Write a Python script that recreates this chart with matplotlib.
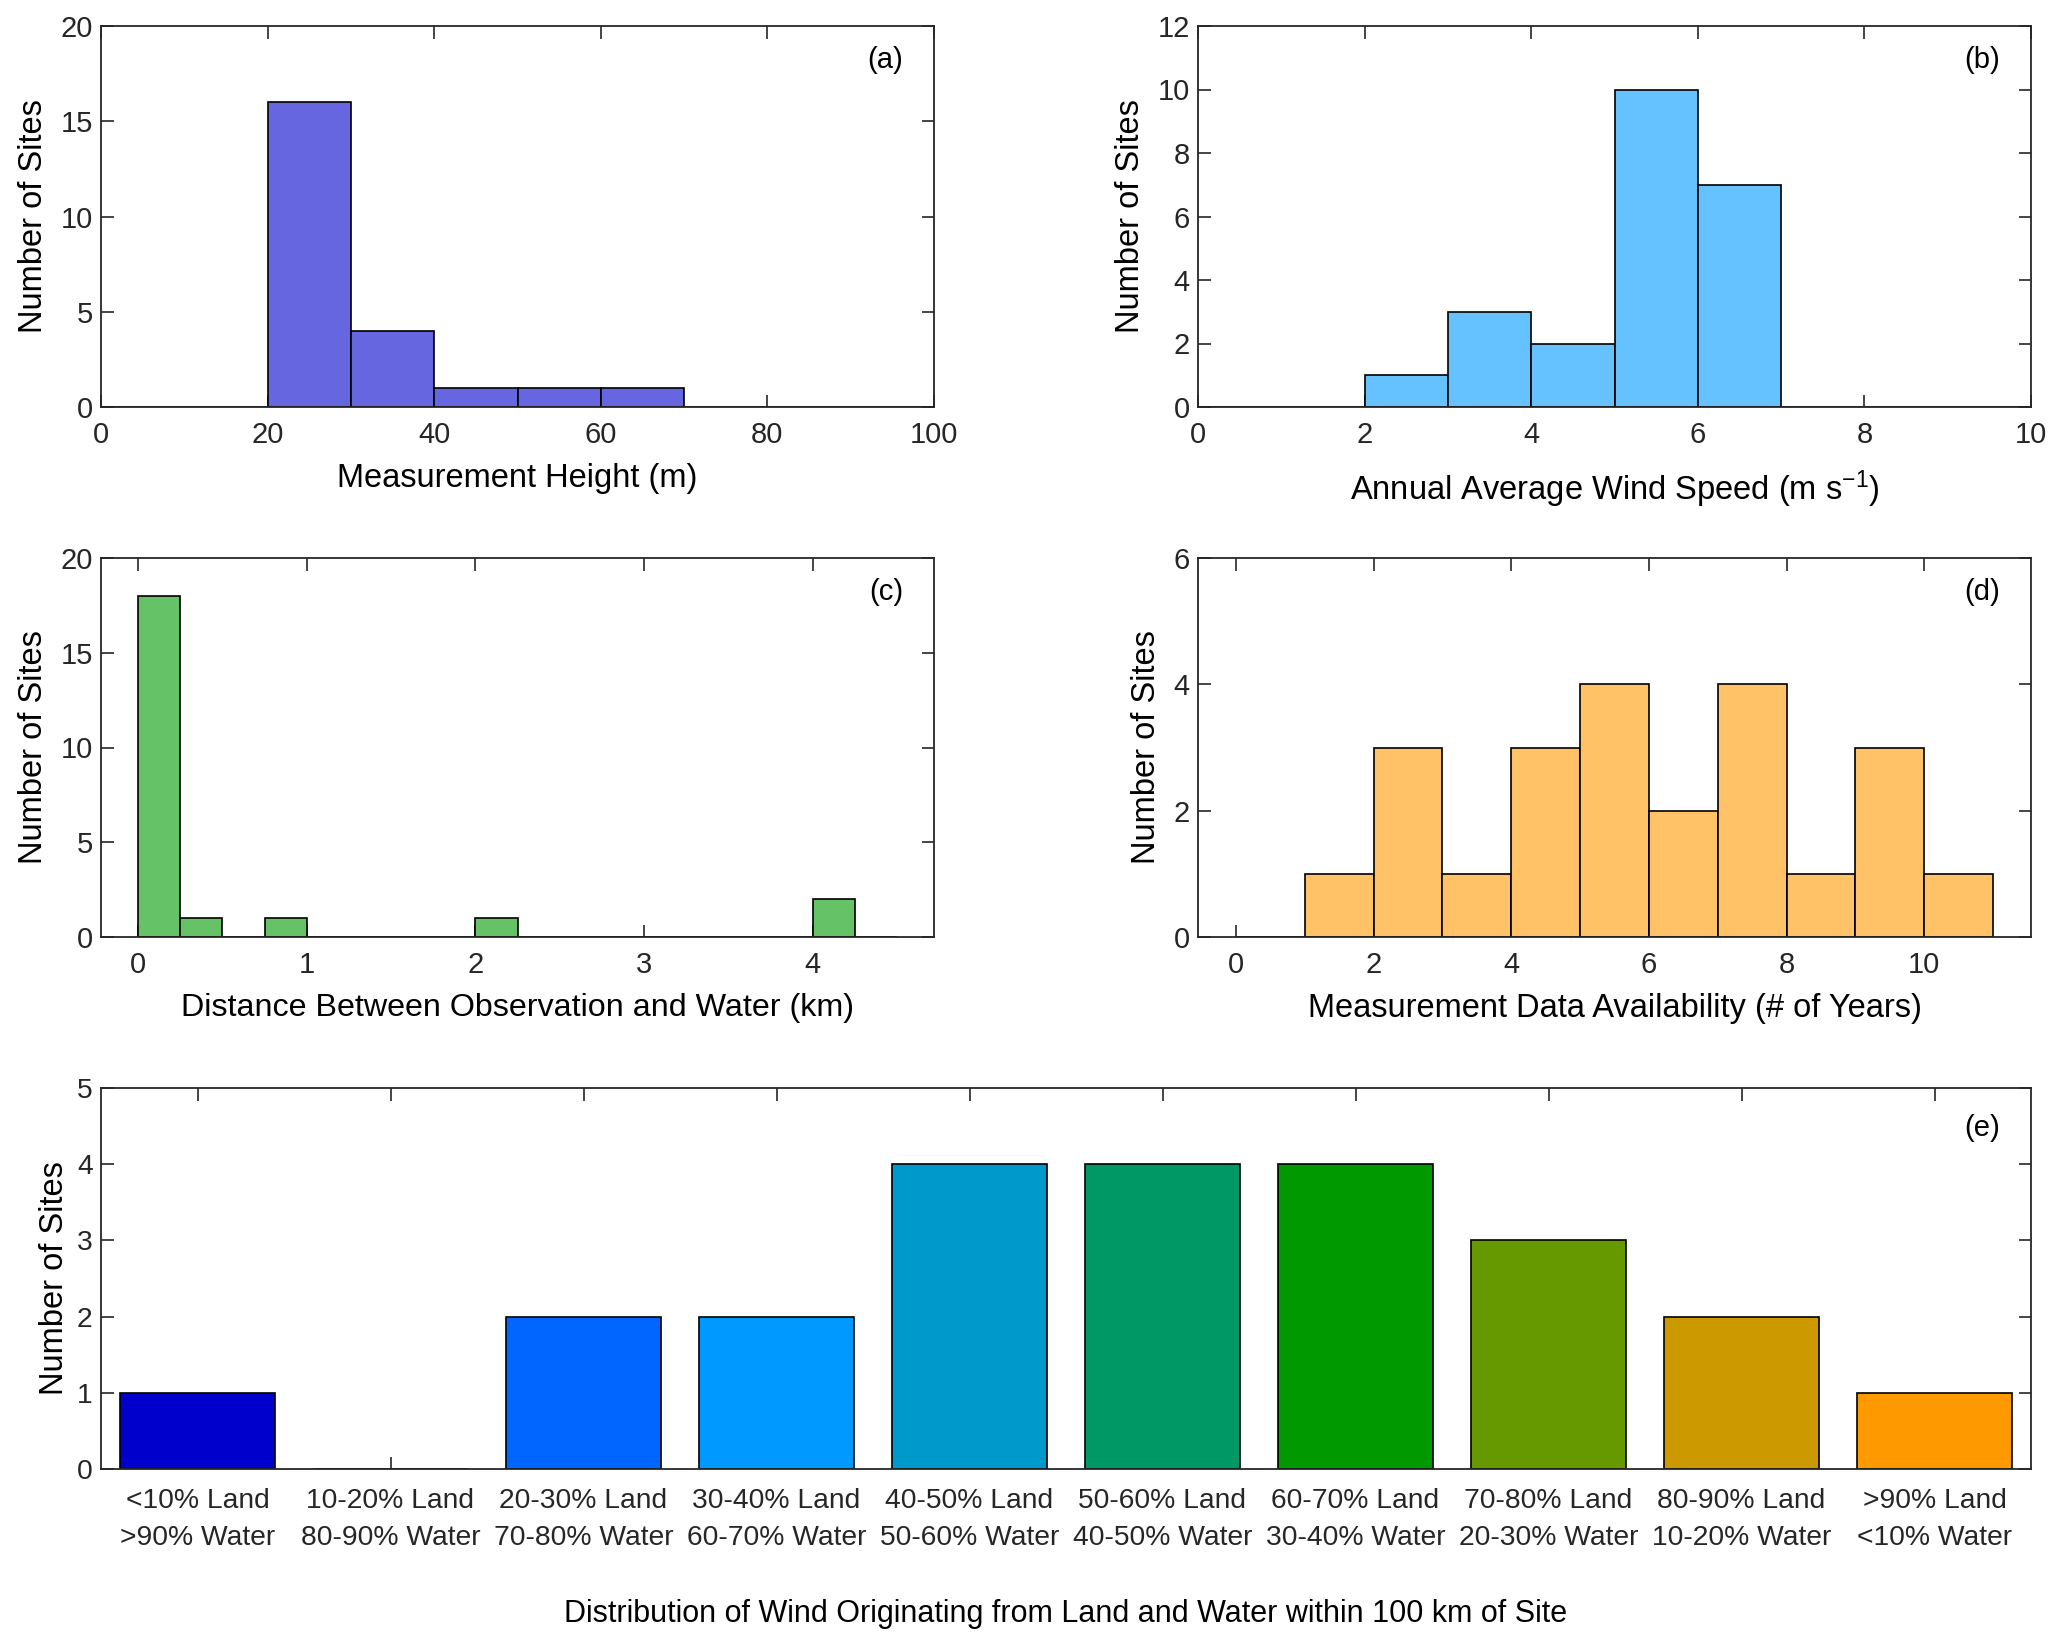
import matplotlib
matplotlib.use("Agg")
import matplotlib.pyplot as plt
import numpy as np

plt.rcParams['font.family'] = ['Liberation Sans', 'DejaVu Sans']
plt.rcParams['mathtext.fontset'] = 'custom'
plt.rcParams['mathtext.rm'] = 'Liberation Sans'
plt.rcParams['mathtext.default'] = 'regular'

# ---- data ----
height_edges = [0, 10, 20, 30, 40, 50, 60, 70, 80, 90, 100]
height_counts = [0, 0, 16, 4, 1, 1, 1, 0, 0, 0]

speed_edges = [0, 1, 2, 3, 4, 5, 6, 7, 8, 9, 10]
speed_counts = [0, 0, 1, 3, 2, 10, 7, 0, 0, 0]

dist_edges = [0, 0.25, 0.5, 0.75, 1.0, 1.25, 1.5, 1.75, 2.0, 2.25, 2.5,
              2.75, 3.0, 3.25, 3.5, 3.75, 4.0, 4.25, 4.5]
dist_counts = [18, 1, 0, 1, 0, 0, 0, 0, 1, 0, 0, 0, 0, 0, 0, 0, 2, 0]

years_edges = [0, 1, 2, 3, 4, 5, 6, 7, 8, 9, 10, 11]
years_counts = [0, 1, 3, 1, 3, 4, 2, 4, 1, 3, 1]

land_labels = ["<10% Land\n>90% Water", "10-20% Land\n80-90% Water",
               "20-30% Land\n70-80% Water", "30-40% Land\n60-70% Water",
               "40-50% Land\n50-60% Water", "50-60% Land\n40-50% Water",
               "60-70% Land\n30-40% Water", "70-80% Land\n20-30% Water",
               "80-90% Land\n10-20% Water", ">90% Land\n<10% Water"]
land_counts = [1, 0, 2, 2, 4, 4, 4, 3, 2, 1]
land_colors = ['#0000CC', '#0033FF', '#0066FF', '#0099FF', '#0099CC',
               '#009966', '#009900', '#669900', '#CC9900', '#FF9900']

W, H = 2067, 1646
fig = plt.figure(figsize=(W / 100, H / 100), dpi=100)

AX_COLOR = '#262626'
TICK_FS = 21
LABEL_FS = 23.5


def px_axes(l, t, r, b):
    return fig.add_axes([l / W, 1 - b / H, (r - l) / W, (b - t) / H])


def style(ax, tick_fs=TICK_FS, xpad=10):
    for s in ax.spines.values():
        s.set_color(AX_COLOR)
        s.set_linewidth(1.3)
    ax.tick_params(direction='in', top=True, right=True, length=9,
                   width=1.2, colors=AX_COLOR, labelsize=tick_fs,
                   labelcolor='#262626')
    ax.tick_params(axis='x', pad=xpad)
    ax.tick_params(axis='y', pad=6)


def hist(ax, edges, counts, color):
    edges = np.asarray(edges, dtype=float)
    ax.bar(edges[:-1], counts, width=np.diff(edges), align='edge',
           color=color, edgecolor='black', linewidth=1.2, zorder=2)


# (a)
ax_a = px_axes(101, 26, 934, 407)
hist(ax_a, height_edges, height_counts, '#6666E0')
ax_a.set_xlim(0, 100)
ax_a.set_ylim(0, 20)
ax_a.set_xticks([0, 20, 40, 60, 80, 100])
ax_a.set_yticks([0, 5, 10, 15, 20])
ax_a.set_xlabel('Measurement Height (m)', fontsize=LABEL_FS, labelpad=10)
ax_a.set_ylabel('Number of Sites', fontsize=LABEL_FS, labelpad=8)
ax_a.text(0.963, 0.91, '(a)', transform=ax_a.transAxes, ha='right',
          va='center', fontsize=TICK_FS)
style(ax_a)

# (b)
ax_b = px_axes(1198, 26, 2031, 407)
hist(ax_b, speed_edges, speed_counts, '#66C2FF')
ax_b.set_xlim(0, 10)
ax_b.set_ylim(0, 12)
ax_b.set_xticks([0, 2, 4, 6, 8, 10])
ax_b.set_yticks([0, 2, 4, 6, 8, 10, 12])
ax_b.set_xlabel('Annual Average Wind Speed (m s$^{\\mathrm{-1}}$)',
                fontsize=LABEL_FS, labelpad=14)
ax_b.set_ylabel('Number of Sites', fontsize=LABEL_FS, labelpad=8)
ax_b.text(0.963, 0.91, '(b)', transform=ax_b.transAxes, ha='right',
          va='center', fontsize=TICK_FS)
style(ax_b)

# (c)
ax_c = px_axes(101, 558, 934, 937)
hist(ax_c, dist_edges, dist_counts, '#66C266')
ax_c.set_xlim(-0.22, 4.72)
ax_c.set_ylim(0, 20)
ax_c.set_xticks([0, 1, 2, 3, 4])
ax_c.set_yticks([0, 5, 10, 15, 20])
ax_c.set_xlabel('Distance Between Observation and Water (km)',
                fontsize=23.2, labelpad=10)
ax_c.set_ylabel('Number of Sites', fontsize=LABEL_FS, labelpad=8)
ax_c.text(0.963, 0.91, '(c)', transform=ax_c.transAxes, ha='right',
          va='center', fontsize=TICK_FS)
style(ax_c)

# (d)
ax_d = px_axes(1198, 558, 2031, 937)
hist(ax_d, years_edges, years_counts, '#FFC266')
ax_d.set_xlim(-0.55, 11.55)
ax_d.set_ylim(0, 6)
ax_d.set_xticks([0, 2, 4, 6, 8, 10])
ax_d.set_yticks([0, 2, 4, 6])
ax_d.set_xlabel('Measurement Data Availability (# of Years)',
                fontsize=LABEL_FS, labelpad=10)
ax_d.set_ylabel('Number of Sites', fontsize=LABEL_FS, labelpad=8)
ax_d.text(0.963, 0.91, '(d)', transform=ax_d.transAxes, ha='right',
          va='center', fontsize=TICK_FS)
style(ax_d)

# (e)
ax_e = px_axes(101, 1088, 2031, 1469)
pos = np.arange(1, len(land_counts) + 1)
ax_e.bar(pos, land_counts, width=0.8, color=land_colors, edgecolor='black',
         linewidth=1.2, zorder=2)
ax_e.set_xlim(0.5, 10.5)
ax_e.set_ylim(0, 5)
ax_e.set_xticks(pos)
ax_e.set_xticklabels(land_labels, linespacing=1.55)
ax_e.set_yticks([0, 1, 2, 3, 4, 5])
ax_e.set_xlabel('Distribution of Wind Originating from Land and Water within 100 km of Site',
                fontsize=22, labelpad=34)
ax_e.set_ylabel('Number of Sites', fontsize=LABEL_FS, labelpad=5)
ax_e.text(0.984, 0.894, '(e)', transform=ax_e.transAxes, ha='right',
          va='center', fontsize=TICK_FS)
style(ax_e, tick_fs=20.3, xpad=14)

fig.savefig('out.png', dpi=100, facecolor='white')
